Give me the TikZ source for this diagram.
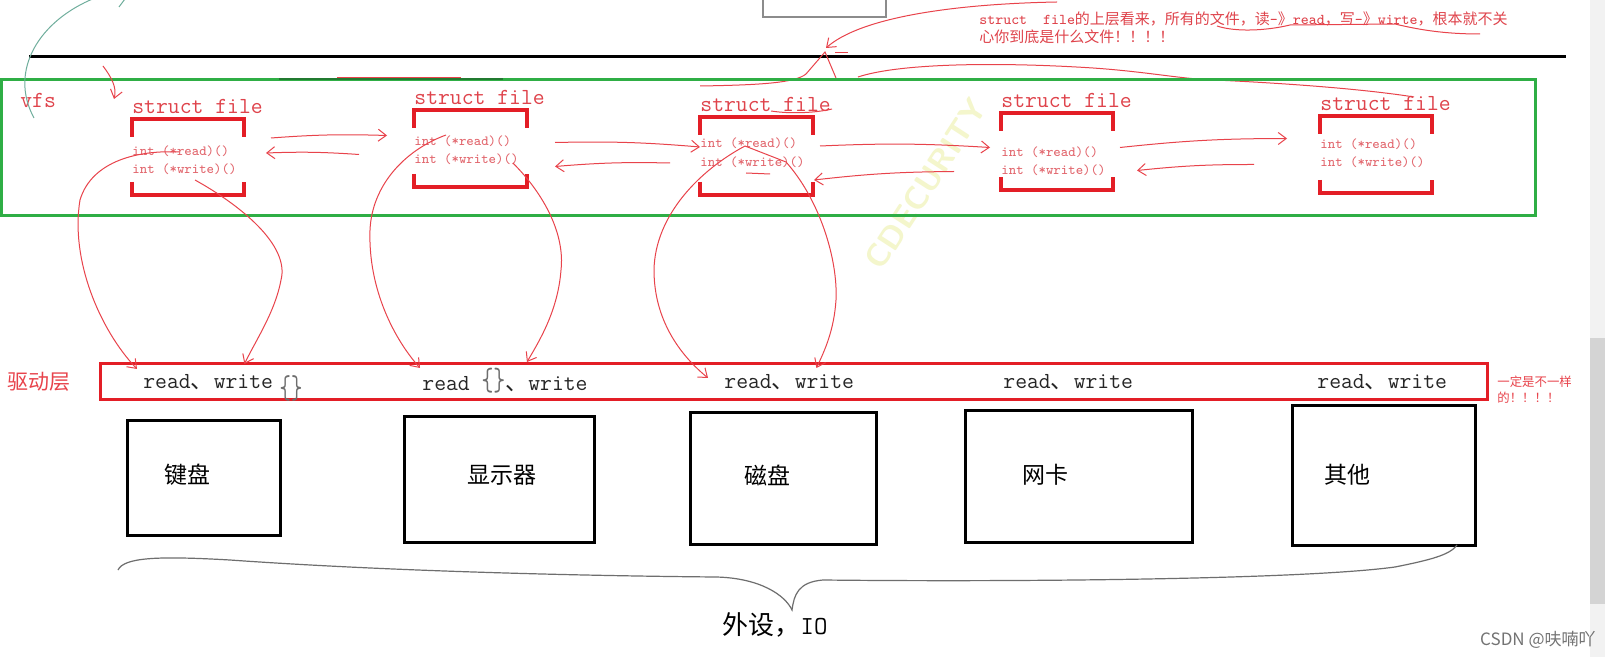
\documentclass[tikz,border=0pt]{standalone}
\usepackage{fontspec}
\newfontfamily\cjk{Noto Sans CJK SC}
\newcommand\zh[1]{{\cjk #1}}
\usepackage{xcolor}
\definecolor{sketch-red}{HTML}{E8434B}
\definecolor{mark-red}{HTML}{E31E26}
\definecolor{label-red}{HTML}{DF434B}
\definecolor{soft-red}{HTML}{E2666D}
\definecolor{vfs-green}{HTML}{2FAE45}
\definecolor{hint-green}{HTML}{6FAE9C}
\definecolor{brace-gray}{HTML}{6E6E6E}
\definecolor{mark-yellow}{HTML}{F4F6CC}
\usepackage{tikz}
\usetikzlibrary{arrows.meta,calc}

\begin{document}
\begin{tikzpicture}[x=0.5pt,y=-0.5pt,
    pen/.style={draw=sketch-red, line width=0.5pt},
    pen-arrow/.style={pen, -{Straight Barb[length=4pt,width=6pt]}},
    sf-bracket/.style={draw=mark-red, line width=1.6pt},
    sf-box/.style={inner sep=0pt, outer sep=0pt},
    sf-title/.style={anchor=west, inner sep=0pt, text=label-red, font=\fontsize{11.5}{12}\ttfamily},
    sf-func/.style={anchor=west, inner sep=0pt, text=soft-red, font=\fontsize{7}{8}\ttfamily},
    drv-text/.style={anchor=west, inner sep=0pt, text=black!85, font=\fontsize{11.5}{12}\ttfamily},
    dev-box/.style={draw=black, line width=1.5pt},
    dev-name/.style={inner sep=0pt, font=\fontsize{11.5}{12}\cjk},
    note-text/.style={anchor=west, inner sep=0pt, text=label-red, font=\fontsize{7.5}{9}\ttfamily}
]

    % Canvas
    \fill[white] (0,0) rectangle (1605,657);
    \useasboundingbox (0,0) rectangle (1605,657);
    \fill[black!5] (1590,0) rectangle (1605,657);
    \fill[black!17] (1590,338) rectangle (1605,604);

    % Watermark
    \node[rotate=57, text=mark-yellow, font=\fontsize{16}{17}\sffamily\bfseries] (mark) at (926,184) {CDECURITY};

    % Window above and boundary line
    \draw[black!45, line width=0.6pt] (763,-2) -- (763,17) -- (886,17) -- (886,-2);
    \draw[line width=1.5pt] (29,57) -- (1566,57);

    % Note on top
    \node[note-text] (note1) at (979,19) {struct\ \ file\zh{的上层看来，所有的文件，读}-\zh{》}read\zh{，写}-\zh{》}wirte\zh{，根本就不关}};
    \node[note-text] (note2) at (979,37) {\zh{心你到底是什么文件！！！！}};
    \draw[pen] (1217,26) .. controls (1235,32) and (1265,31) .. (1290,25) -- (1395,24) .. controls (1420,30) and (1445,34) .. (1480,34);
    \draw[pen-arrow] (1057,2) .. controls (950,4) and (860,18) .. (826,48);
    \draw[pen] (700,86) .. controls (760,85) and (795,83) .. (806,74) -- (825,52) -- (836,78);
    \draw[pen] (835,53) -- (848,53);
    \draw[pen] (858,77) .. controls (900,63) and (1000,62) .. (1093,68) .. controls (1150,72) and (1180,79) .. (1215,80) .. controls (1300,84) and (1370,90) .. (1414,97);

    % vfs layer
    \draw[vfs-green, line width=1.5pt] (1,80) rectangle (1535,216);
    \draw[vfs-green!70!black, line width=1pt] (279,79) -- (503,79);
    \draw[pen] (337,78) -- (461,78);
    \node[sf-title] (vfs) at (20,100) {vfs};
    \draw[hint-green, line width=0.5pt] (95,-2) .. controls (40,20) and (8,70) .. (34,118);
    \draw[hint-green, line width=0.5pt] (125,-1) -- (119,7);
    \draw[pen-arrow] (103,66) .. controls (112,78) and (117,88) .. (114,99);

    % struct file boxes
    \foreach \n/\l/\r/\t/\b/\ty/\ya/\yb in {1/132/244/119/195/106/151/169, 2/414/527/110/187/97/141/159, 3/700/813/117/195/104/143/162, 4/1001/1113/113/190/100/152/170, 5/1320/1432/116/193/103/144/162}{
        \node[sf-box, minimum width=(\r-\l)*0.5pt, minimum height=(\b-\t)*0.5pt] (f\n) at ({(\l+\r)/2},{(\t+\b)/2}) {};
        \draw[sf-bracket] ($(f\n.north west)+(0,18)$) |- (f\n.north east) -- +(0,18);
        \draw[sf-bracket] ($(f\n.south west)+(0,-13)$) |- (f\n.south east) -- +(0,-13);
        \node[sf-title] (t\n) at (\l,\ty) {struct file};
        \node[sf-func] (r\n) at (\l,\ya) {int (*read)()};
        \node[sf-func] (w\n) at (\l,\yb) {int (*write)()};
    }
    \draw[pen] (771,111) .. controls (790,114) and (815,113) .. (832,109);
    \draw[pen] (746,173) -- (770,174);

    % Arrows between the boxes
    \foreach \a/\b/\sx/\sy/\ex/\ey in {1/2/27/-19/-27/-13, 2/3/28/-6/0/-9, 3/4/7/-10/-11/-4, 4/5/7/-4/-33/-16}{
        \draw[pen-arrow] ($(f\a.east)+(\sx,\sy)$) to[bend left=3] ($(f\b.west)+(\ex,\ey)$);
    }
    \foreach \a/\b/\sx/\sy/\ex/\ey in {2/1/-55/6/22/-4, 3/2/-30/7/28/18, 4/3/-47/20/1/24, 5/4/-66/10/24/19}{
        \draw[pen-arrow] ($(f\a.west)+(\sx,\sy)$) to[bend right=3] ($(f\b.east)+(\ex,\ey)$);
    }

    % Driver layer
    \draw[mark-red, line width=1.5pt] (100,364) rectangle (1487,399);
    \node[inner sep=0pt, text=sketch-red, font=\fontsize{10.5}{12}\cjk] (layer) at (39,382) {驱动层};
    \node[drv-text] (d1) at (143,382) {read\zh{、}write};
    \node[inner sep=0pt, text=brace-gray, font=\fontsize{11}{12}\ttfamily] (g1) at (291,388) {\scalebox{1}[1.5]{\{\}}};
    \node[drv-text] (d2) at (422,381) {read \textcolor{brace-gray}{\scalebox{1}[1.4]{\{\}}}\zh{、}write};
    \node[drv-text] (d3) at (724,382) {read\zh{、}write};
    \node[drv-text] (d4) at (1003,382) {read\zh{、}write};
    \node[drv-text] (d5) at (1317,382) {read\zh{、}write};
    \node[anchor=west, inner sep=0pt, align=left, text=sketch-red, font=\fontsize{6.2}{8}\cjk] (diff) at (1497,390) {一定是不一样\\的！！！！};

    % Arrows down to the driver layer
    \draw[pen-arrow] ($(r1.west)+(47,1)$) .. controls (140,150) and (92,160) .. (80,200) .. controls (70,260) and (100,330) .. ($(d1.west)+(-6,-13)$);
    \draw[pen-arrow] ($(w1.west)+(63,11)$) .. controls (240,205) and (290,245) .. (281,280) .. controls (275,312) and (256,340) .. ($(d1.east)+(-29,-18)$);
    \draw[pen-arrow] ($(r2.west)+(32,-6)$) .. controls (405,150) and (372,185) .. (370,230) .. controls (368,290) and (395,340) .. ($(d2.west)+(-2,-13)$);
    \draw[pen-arrow] ($(w2.east)+(-6,4)$) .. controls (545,195) and (565,235) .. (561,270) .. controls (558,310) and (540,340) .. ($(d2.east)+(-61,-19)$);
    \draw[pen-arrow] ($(r3.west)+(45,3)$) .. controls (700,170) and (655,215) .. (654,270) .. controls (654,320) and (680,355) .. ($(d3.west)+(-16,-4)$);
    \draw[pen-arrow] ($(r3.west)+(45,3)$) -- (786,162) .. controls (820,200) and (838,260) .. (836,300) .. controls (834,330) and (825,350) .. ($(d3.east)+(-38,-14)$);

    % Devices
    \foreach \n/\l/\t/\r/\b/\x/\name in {1/127/420/280/535/187/键盘, 2/404/416/594/542/502/显示器, 3/690/412/876/544/767/磁盘, 4/965/410/1192/542/1045/网卡, 5/1292/405/1475/545/1347/其他}{
        \draw[dev-box] (\l,\t) rectangle (\r,\b);
        \node[dev-name] (k\n) at (\x,475) {\name};
    }

    % Brace
    \draw[brace-gray, line width=0.6pt] (118,570) .. controls (124,557) and (160,556) .. (230,560) .. controls (400,572) and (600,576) .. (716,577) .. controls (760,578) and (785,595) .. (792,610) .. controls (794,595) and (798,582) .. (823,580) .. controls (1000,582) and (1300,580) .. (1395,567) .. controls (1430,560) and (1450,555) .. (1457,545);
    \node[dev-name, font=\fontsize{13}{14}\cjk] (io) at (775,625) {外设，{\ttfamily IO}};

    % Credit
    \node[anchor=east, inner sep=0pt, text=black!55, font=\fontsize{8.5}{10}\cjk] (csdn) at (1596,640) {CSDN @呋喃吖};

\end{tikzpicture}
\end{document}
